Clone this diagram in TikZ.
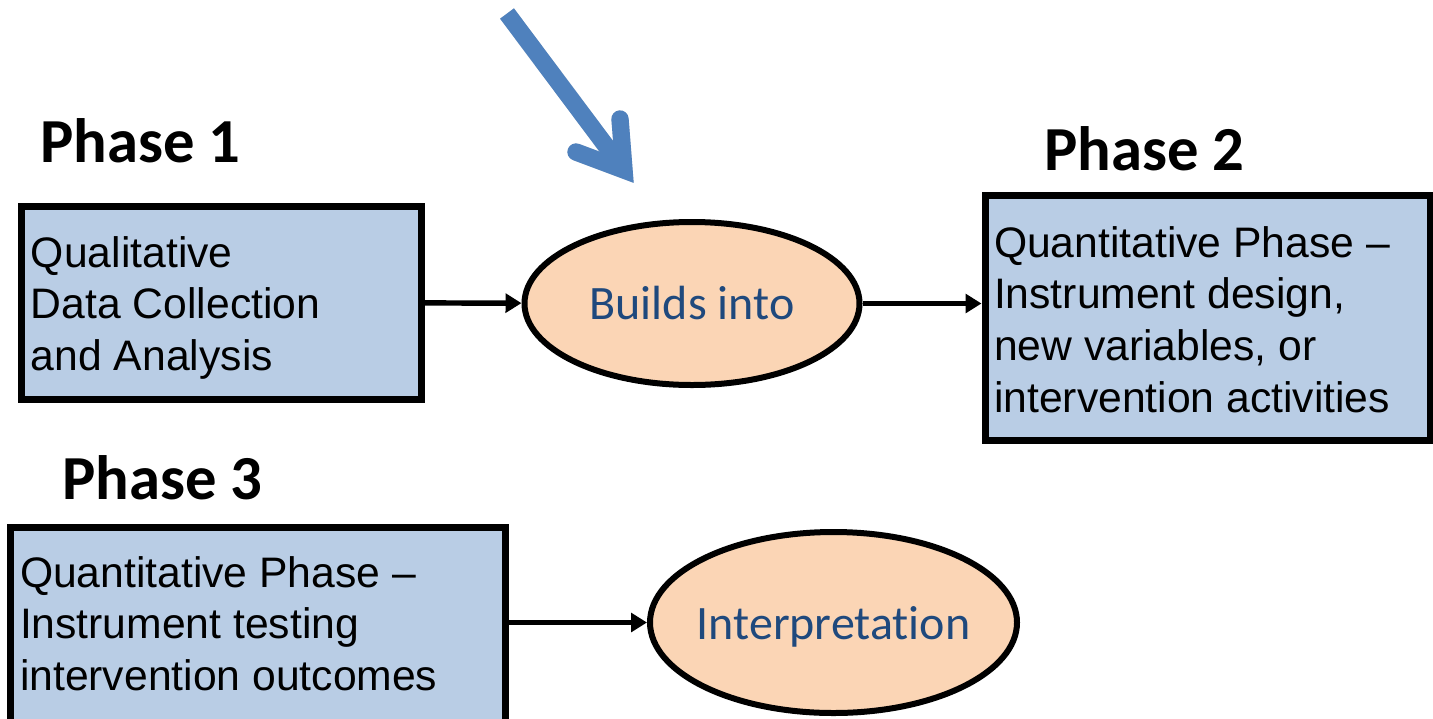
\documentclass[tikz,border=0pt]{standalone}
\usepackage{fontspec}
\setmainfont{Liberation Sans}
\newfontfamily\calibri[Ligatures=NoCommon]{Carlito}
\usetikzlibrary{arrows.meta,shapes.geometric}
\definecolor{boxfill}{HTML}{B9CDE5}
\definecolor{ellfill}{HTML}{FBD5B5}
\definecolor{elltext}{HTML}{1F497D}
\definecolor{bigarrow}{HTML}{4F81BD}
\newcommand\bxfont{\fontsize{32pt}{38.8pt}\selectfont}
\begin{document}
\begin{tikzpicture}[x=0.75pt,y=-0.75pt,
  phase/.style={anchor=base west, font=\calibri\bfseries\fontsize{47pt}{56pt}\selectfont, inner sep=0pt},
  box/.style={draw=black, line width=5.25pt, fill=boxfill, rectangle, inner ysep=0pt},
  oval/.style={draw=black, line width=4.5pt, fill=ellfill, ellipse, inner sep=0pt, text=elltext, font=\calibri\fontsize{36pt}{43pt}\selectfont},
  conn/.style={line width=4.1pt, -{Triangle[length=12pt,width=14pt]}},
  blue arrow/.style={bigarrow, line width=13pt}
  ]
\useasboundingbox (0,0) rectangle (1433,718);

% boxes
\node[box, inner xsep=7.5pt, text height=45.75pt, text depth=99pt,
      minimum height=144.75pt, minimum width=300pt] (box1) at (221,302.5)
  {\parbox[t]{285pt}{\bxfont\raggedright Qualitative\\Data Collection\\and Analysis}};
\node[box, inner xsep=6.75pt, text height=46.5pt, text depth=137.25pt,
      minimum height=183.75pt, minimum width=333.75pt] (box2) at (1207.5,317.5)
  {\parbox[t]{320.25pt}{\bxfont\raggedright Quantitative Phase --\\Instrument design,\\new variables, or\\intervention activities}};
\node[box, inner xsep=7.5pt, text height=45pt, text depth=129.75pt,
      minimum height=174.75pt, minimum width=371.25pt] (box3) at (257.5,643.5)
  {\parbox[t]{356.25pt}{\bxfont\raggedright Quantitative Phase --\\Instrument testing\\intervention outcomes}};

% ellipses
\node[oval, inner xsep=-15pt, minimum width=251.25pt, minimum height=122.25pt] (ell1) at (692,303.5) {Builds into};
\node[oval, inner xsep=-15pt, minimum width=275.25pt, minimum height=135.75pt, text depth=0pt] (ell2) at (833.5,622.5) {Interpretation};

% headings
\node[phase] (p1) at (40,162) {Phase 1};
\node[phase] (p2) at (1044,170) {Phase 2};
\node[phase] (p3) at (62,499) {Phase 3};

% connectors
\draw[conn] (box1) -- (ell1);
\draw[conn] (ell1.east) -- (ell1.east -| box2.west);
\draw[conn] (ell2.west -| box3.east) -- (ell2.west);

% big blue arrow (with a faint shadow)
\coordinate (bs) at (507,13.5);
\coordinate (bt) at (624,170);
\coordinate (bl) at (576,152);
\coordinate (br) at (620,119);
\begin{scope}[shift={(2,3)}, opacity=0.12]
  \draw[line width=13pt, black] (bs) -- (bt);
  \draw[line width=13pt, black, line cap=round, line join=miter] (bl) -- (bt) -- (br);
\end{scope}
\draw[blue arrow] (bs) -- (bt);
\draw[blue arrow, line cap=round, line join=miter] (bl) -- (bt) -- (br);
\end{tikzpicture}
\end{document}
